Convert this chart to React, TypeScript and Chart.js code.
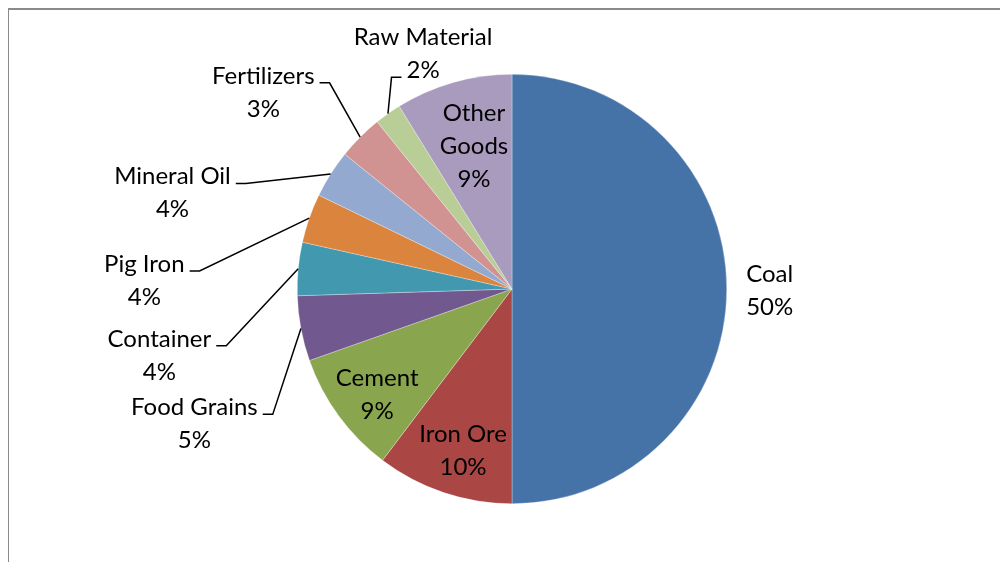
import React, { useEffect, useRef } from "react";
import { Chart, registerables } from "chart.js";

Chart.register(...registerables);

// ---- data ----
const categories = [
  "Coal",
  "Iron Ore",
  "Cement",
  "Food Grains",
  "Container",
  "Pig Iron",
  "Mineral Oil",
  "Fertilizers",
  "Raw Material",
  "Other Goods",
];
const shares = [50.0, 10.3, 9.3, 4.9, 4.0, 3.7, 3.6, 3.4, 2.0, 8.8];
const sliceColors = [
  "#4572A7",
  "#AA4643",
  "#89A54E",
  "#71588F",
  "#4198AF",
  "#DB843D",
  "#93A9CF",
  "#D19392",
  "#B9CD96",
  "#A99BBD",
];

// label placement relative to pie centre, in units of the pie radius
const labelLayout = [
  { dx: 1.2, dy: 0.007, wrap: false, leader: null as number | null },
  { dx: -0.228, dy: 0.751, wrap: false, leader: null },
  { dx: -0.628, dy: 0.493, wrap: false, leader: null },
  { dx: -1.479, dy: 0.628, wrap: false, leader: 0 },
  { dx: -1.642, dy: 0.309, wrap: false, leader: 0 },
  { dx: -1.712, dy: -0.04, wrap: false, leader: 0 },
  { dx: -1.581, dy: -0.447, wrap: false, leader: 0 },
  { dx: -1.158, dy: -0.916, wrap: false, leader: 0 },
  { dx: -0.414, dy: -1.095, wrap: false, leader: 1 },
  { dx: -0.177, dy: -0.663, wrap: true, leader: null },
];

const FONT_SIZE = 24;
const LINE_H = 33;
const FONT_FAMILY = "Lato, 'Open Sans', sans-serif";

const labelPlugin = {
  id: "pieLabels",
  afterDatasetsDraw(chart: any) {
    const ctx: CanvasRenderingContext2D = chart.ctx;
    const meta = chart.getDatasetMeta(0);
    const data: number[] = chart.data.datasets[0].data;
    const total = data.reduce((a, b) => a + b, 0);
    ctx.save();
    ctx.font = `${FONT_SIZE}px ${FONT_FAMILY}`;
    ctx.textAlign = "center";
    ctx.textBaseline = "middle";
    ctx.fillStyle = "#000";
    meta.data.forEach((arc: any, i: number) => {
      const p = arc.getProps(["x", "y", "startAngle", "endAngle", "outerRadius"], true);
      const R = p.outerRadius;
      const lay = labelLayout[i];
      const name = chart.data.labels[i] as string;
      const pct = Math.round((data[i] / total) * 100) + "%";
      const lines = lay.wrap ? [...name.split(" "), pct] : [name, pct];
      const cx = p.x + lay.dx * R;
      const cy = p.y + lay.dy * R;
      const n = lines.length;
      lines.forEach((t, k) => {
        ctx.fillText(t, cx, cy + (k - (n - 1) / 2) * LINE_H);
      });
      if (lay.leader !== null) {
        const k = lay.leader;
        const ly = cy + (k - (n - 1) / 2) * LINE_H + 7;
        const w = ctx.measureText(lines[k]).width;
        const mid = (p.startAngle + p.endAngle) / 2;
        const px = p.x + R * Math.cos(mid);
        const py = p.y + R * Math.sin(mid);
        let sx: number, hx: number;
        if (px > cx + w / 2) {
          sx = cx + w / 2 + 5;
          hx = sx + 10;
        } else {
          sx = cx - w / 2 - 5;
          hx = sx - 10;
        }
        ctx.beginPath();
        ctx.strokeStyle = "#000";
        ctx.lineWidth = 1.5;
        ctx.moveTo(sx, ly);
        ctx.lineTo(hx, ly);
        ctx.lineTo(px, py);
        ctx.stroke();
      }
    });
    ctx.restore();
  },
};

export default function App() {
  const ref = useRef<HTMLCanvasElement | null>(null);
  useEffect(() => {
    if (!ref.current) return;
    const chart = new Chart(ref.current, {
      type: "pie",
      data: {
        labels: categories,
        datasets: [
          {
            data: shares,
            backgroundColor: sliceColors,
            borderColor: "rgba(255,255,255,0.6)",
            borderWidth: 0.5,
          },
        ],
      },
      options: {
        responsive: false,
        animation: false,
        layout: { padding: { left: 288, right: 282, top: 64, bottom: 58 } },
        plugins: {
          legend: { display: false },
          tooltip: { enabled: false },
        },
      },
      plugins: [labelPlugin],
    });
    return () => chart.destroy();
  }, []);
  return (
    <div
      style={{
        width: 1000,
        height: 554,
        marginLeft: -1,
        boxSizing: "border-box",
        borderTop: "2px solid #8a8a8a",
        borderLeft: "2px solid #8a8a8a",
        overflow: "hidden",
        background: "#fff",
      }}
    >
      <canvas ref={ref} width={1000} height={552} style={{ display: "block" }} />
    </div>
  );
}
